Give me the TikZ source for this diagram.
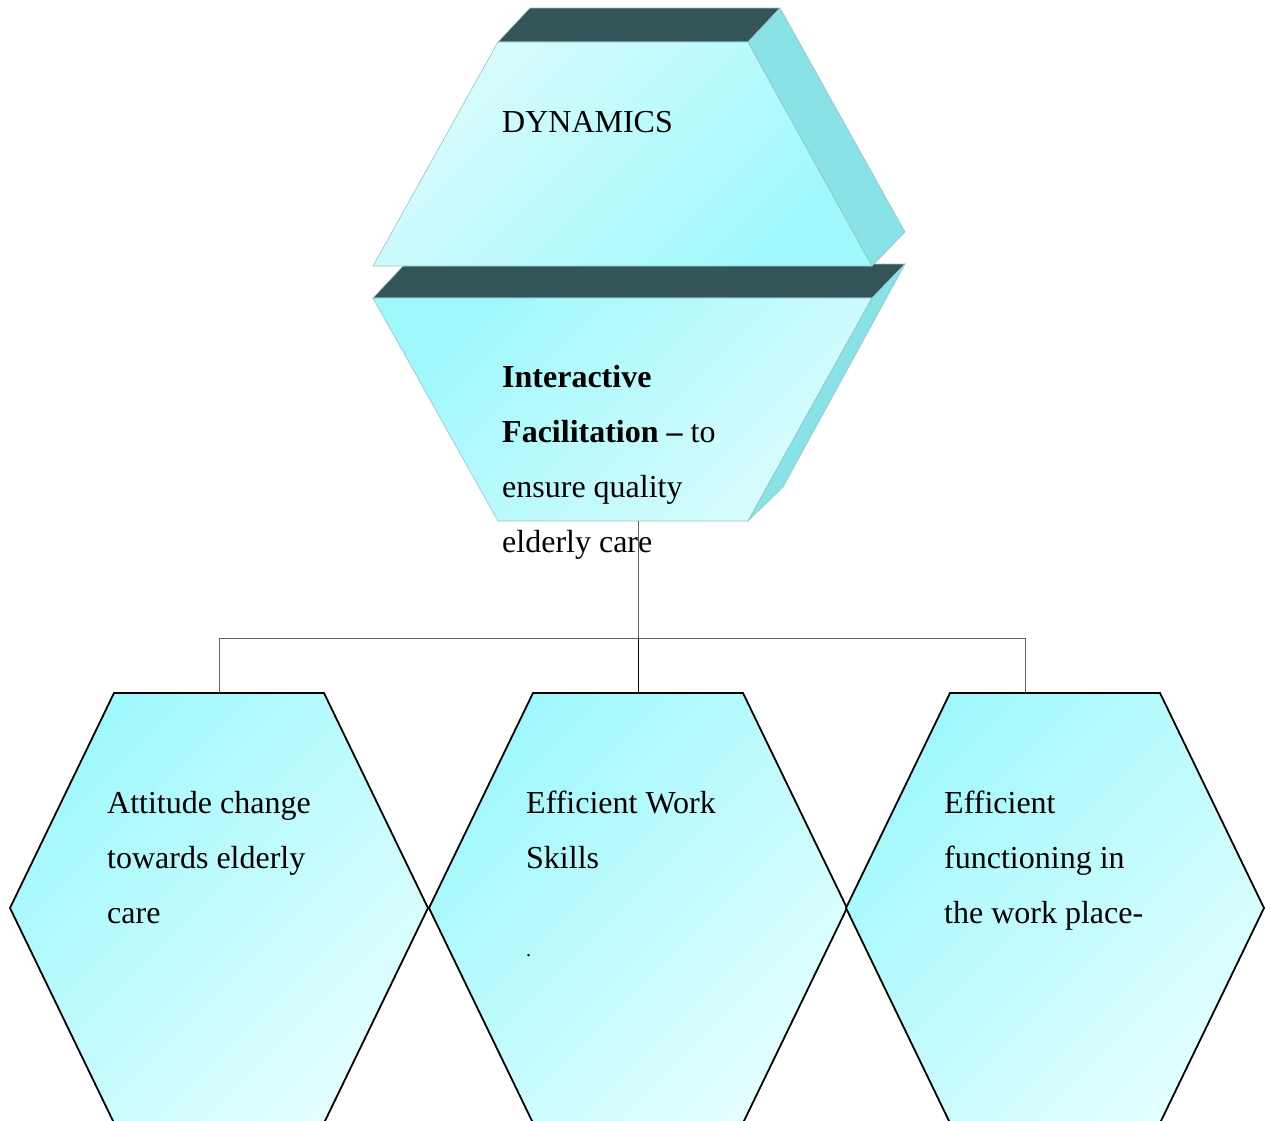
\documentclass[tikz,border=0pt]{standalone}
\usepackage{fontspec}
\setmainfont{Liberation Serif}
\definecolor{capdark}{RGB}{51,85,88}
\definecolor{sidecyan}{RGB}{136,226,230}
\definecolor{palecyan}{RGB}{218,252,253}
\definecolor{deepcyan}{RGB}{158,248,252}
\definecolor{hexlight}{RGB}{226,254,255}
\definecolor{hexdeep}{RGB}{160,248,252}
\definecolor{rimcol}{RGB}{150,196,200}
\definecolor{wirecol}{RGB}{100,100,100}
\begin{document}
\begin{tikzpicture}[x=1pt,y=-1pt,
  rim/.style={draw=rimcol,line width=0.6pt},
  capface/.style={rim,fill=capdark},
  sideface/.style={rim,fill=sidecyan},
  lightdown/.style={rim,top color=palecyan,bottom color=deepcyan,shading angle=45},
  deepdown/.style={rim,top color=deepcyan,bottom color=palecyan,shading angle=45},
  hexface/.style={draw=black,line width=1.8pt,line join=miter,top color=hexdeep,bottom color=hexlight,shading angle=45},
  wire/.style={draw=wirecol,line width=1pt},
  lbl/.style={anchor=base west,inner sep=0pt,font=\fontsize{32}{38}\selectfont}
]
\path[fill=white,use as bounding box] (0,0) rectangle (1271,1120);
\clip (0,0) rectangle (1271,1120);

% lower block: Interactive Facilitation
\path[capface]  (373,298) -- (405,264) -- (905,264) -- (872,298) -- cycle;
\path[deepdown] (373,298) -- (872,298) -- (748,521) -- (498,521) -- cycle;
\path[sideface] (872,298) -- (905,264) -- (783,487) -- (748,521) -- cycle;
\coordinate (facil) at (638,521);

% upper block: DYNAMICS
\path[capface]   (498,42) -- (530,8) -- (780,8) -- (748,42) -- cycle;
\path[lightdown] (498,42) -- (748,42) -- (872,266) -- (373,266) -- cycle;
\path[sideface]  (748,42) -- (780,8) -- (905,232) -- (872,266) -- cycle;

% three hexagons
\foreach \cx/\nm in {219/hexA,638/hexB,1055/hexC}{
  \path[hexface] (\cx-105,693) -- (\cx+105,693) -- (\cx+209,908)
     -- (\cx+105,1123) -- (\cx-105,1123) -- (\cx-209,908) -- cycle;
  \coordinate (\nm) at (\cx,693);
}

% connectors
\coordinate (bus) at (638,638);
\coordinate (busL) at (219,638);
\coordinate (busR) at (1025,638);
\coordinate (hexCtap) at (1025,693);
\draw[wire] (facil) -- (bus);
\draw[wire] (busL) -- (busR);
\draw[wire] (busL) -- (hexA);
\draw[wire,draw=black] (bus) -- (hexB);
\draw[wire] (busR) -- (hexCtap);

% labels
\node[lbl] (dyn) at (502,132) {DYNAMICS};
\node[lbl] (fa) at (502,387) {\bfseries Interactive};
\node[lbl] (fb) at (502,442) {{\bfseries Facilitation –} to};
\node[lbl] (fc) at (502,497) {ensure quality};
\node[lbl] (fd) at (502,552) {elderly care};

\node[lbl] (aa) at (107,813) {Attitude change};
\node[lbl] (ab) at (107,868) {towards elderly};
\node[lbl] (ac) at (107,923) {care};

\node[lbl] (ba) at (526,813) {Efficient Work};
\node[lbl] (bb) at (526,868) {Skills};
\node[lbl,font=\fontsize{20}{24}\selectfont] (bc) at (526,956) {.};

\node[lbl] (ca) at (944,813) {Efficient};
\node[lbl] (cb) at (944,868) {functioning in};
\node[lbl] (cc) at (944,923) {the work place-};
\end{tikzpicture}
\end{document}
